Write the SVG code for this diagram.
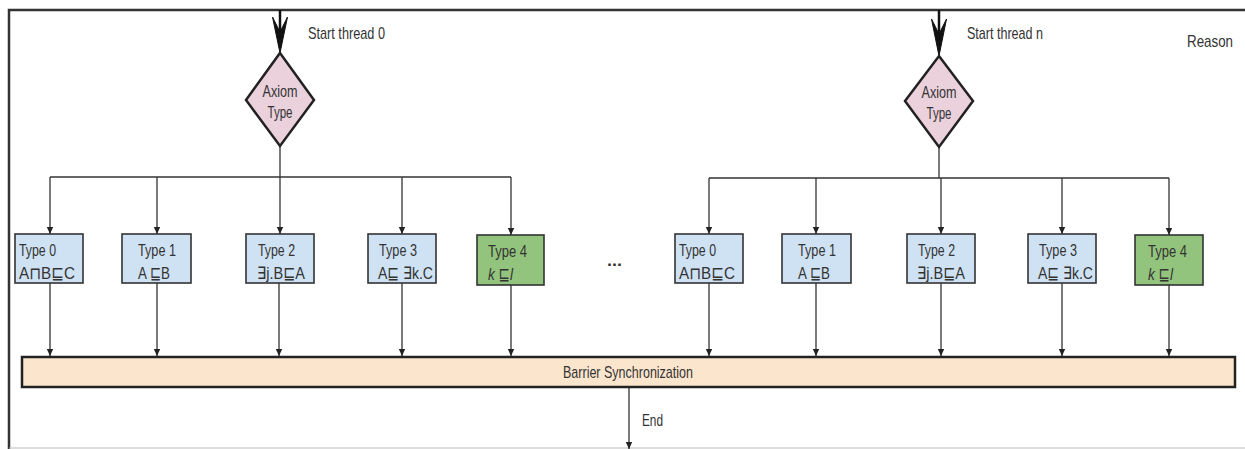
<svg xmlns="http://www.w3.org/2000/svg" width="1245" height="449" viewBox="0 0 1245 449">
  <style>
    text { font-family: "Liberation Sans", Arial, "DejaVu Sans", sans-serif; font-size: 17px; fill: #333; }
    .mid { text-anchor: middle; }
    .it { font-style: italic; }
    .frame { fill: none; stroke: #333; stroke-width: 2.5; }
    .edge { fill: none; stroke: #333; stroke-width: 1.3; }
    .start { fill: none; stroke: #111; stroke-width: 2.5; }
    .head { fill: #111; stroke: #111; stroke-width: 1; }
    .decision { fill: #ead1dc; stroke: #222; stroke-width: 2.5; }
    .rule { fill: #cfe2f3; stroke: #333; stroke-width: 1.6; }
    .rule4 { fill: #93c47d; stroke: #333; stroke-width: 1.6; }
    .barrier { fill: #fce5cd; stroke: #222; stroke-width: 2.5; }
  </style>
  <defs>
    <marker id="tip" markerWidth="8" markerHeight="10" refX="7" refY="4" orient="auto" markerUnits="userSpaceOnUse">
      <path d="M0,0.8 L7,4 L0,7.2 Z" fill="#222"/>
    </marker>
  </defs>

  <!-- outer frame of the reasoning stage -->
  <g id="frame">
    <path class="frame" d="M1245,10 H9 V449"/>
    <line x1="9" y1="448" x2="1245" y2="448" stroke="#bbb" stroke-width="1.2"/>
    <text x="1187" y="47" textLength="46" lengthAdjust="spacingAndGlyphs">Reason</text>
  </g>

  <!-- connectors -->
  <g id="connectors">
    <!-- thread entry arrows -->
    <line class="start" x1="280" y1="10" x2="280" y2="40"/>
    <path class="head" d="M272.5,17 L280,53 L287.5,17 L280,32 Z"/>
    <line class="start" x1="939" y1="10" x2="939" y2="42"/>
    <path class="head" d="M931.5,19 L939,56 L946.5,19 L939,34 Z"/>

    <!-- thread 0 dispatch -->
    <line class="edge" x1="280" y1="146" x2="280" y2="177"/>
    <line class="edge" x1="50" y1="177" x2="511" y2="177"/>
    <line class="edge" x1="50" y1="177" x2="50" y2="234" marker-end="url(#tip)"/>
    <line class="edge" x1="157" y1="177" x2="157" y2="234" marker-end="url(#tip)"/>
    <line class="edge" x1="280" y1="177" x2="280" y2="234" marker-end="url(#tip)"/>
    <line class="edge" x1="402" y1="177" x2="402" y2="234" marker-end="url(#tip)"/>
    <line class="edge" x1="511" y1="177" x2="511" y2="235" marker-end="url(#tip)"/>

    <!-- thread n dispatch -->
    <line class="edge" x1="939" y1="147" x2="939" y2="178"/>
    <line class="edge" x1="709" y1="178" x2="1169" y2="178"/>
    <line class="edge" x1="709" y1="178" x2="709" y2="234" marker-end="url(#tip)"/>
    <line class="edge" x1="816" y1="178" x2="816" y2="234" marker-end="url(#tip)"/>
    <line class="edge" x1="941" y1="178" x2="941" y2="234" marker-end="url(#tip)"/>
    <line class="edge" x1="1062" y1="178" x2="1062" y2="234" marker-end="url(#tip)"/>
    <line class="edge" x1="1169" y1="178" x2="1169" y2="235" marker-end="url(#tip)"/>

    <!-- rule results into the barrier -->
    <line class="edge" x1="50" y1="283" x2="50" y2="356" marker-end="url(#tip)"/>
    <line class="edge" x1="157" y1="283" x2="157" y2="356" marker-end="url(#tip)"/>
    <line class="edge" x1="279" y1="283" x2="279" y2="356" marker-end="url(#tip)"/>
    <line class="edge" x1="402" y1="283" x2="402" y2="356" marker-end="url(#tip)"/>
    <line class="edge" x1="511" y1="285" x2="511" y2="356" marker-end="url(#tip)"/>
    <line class="edge" x1="709" y1="283" x2="709" y2="356" marker-end="url(#tip)"/>
    <line class="edge" x1="816" y1="283" x2="816" y2="356" marker-end="url(#tip)"/>
    <line class="edge" x1="941" y1="283" x2="941" y2="356" marker-end="url(#tip)"/>
    <line class="edge" x1="1062" y1="283" x2="1062" y2="356" marker-end="url(#tip)"/>
    <line class="edge" x1="1169" y1="285" x2="1169" y2="356" marker-end="url(#tip)"/>

    <!-- exit -->
    <line class="edge" x1="629" y1="388" x2="629" y2="449" marker-end="url(#tip)"/>
  </g>

  <!-- labels on the connectors -->
  <text x="308" y="39" textLength="77" lengthAdjust="spacingAndGlyphs">Start thread 0</text>
  <text x="967" y="39" textLength="76" lengthAdjust="spacingAndGlyphs">Start thread n</text>
  <text x="642" y="426" textLength="21" lengthAdjust="spacingAndGlyphs">End</text>
  <text x="607" y="266" textLength="15" lengthAdjust="spacingAndGlyphs" font-weight="bold">...</text>

  <!-- thread 0 -->
  <g id="axiom-type-0">
    <polygon class="decision" points="280,53 314,100 280,146 246,100"/>
    <text class="mid" x="280" y="97" textLength="35" lengthAdjust="spacingAndGlyphs">Axiom</text>
    <text class="mid" x="280" y="118" textLength="25" lengthAdjust="spacingAndGlyphs">Type</text>
  </g>
  <g id="t0-type0">
    <rect class="rule" x="15" y="234" width="68" height="49"/>
    <text x="19" y="256" textLength="37" lengthAdjust="spacingAndGlyphs">Type 0</text>
    <text x="19" y="279" textLength="56" lengthAdjust="spacingAndGlyphs">A⊓B⊑C</text>
  </g>
  <g id="t0-type1">
    <rect class="rule" x="122" y="234" width="69" height="49"/>
    <text x="138" y="256" textLength="38" lengthAdjust="spacingAndGlyphs">Type 1</text>
    <text x="138" y="279" textLength="32" lengthAdjust="spacingAndGlyphs">A ⊑B</text>
  </g>
  <g id="t0-type2">
    <rect class="rule" x="246" y="234" width="68" height="49"/>
    <text x="258" y="256" textLength="37" lengthAdjust="spacingAndGlyphs">Type 2</text>
    <text x="257" y="279" textLength="48" lengthAdjust="spacingAndGlyphs">∃j.B⊑A</text>
  </g>
  <g id="t0-type3">
    <rect class="rule" x="368" y="234" width="68" height="49"/>
    <text x="379" y="256" textLength="38" lengthAdjust="spacingAndGlyphs">Type 3</text>
    <text x="378" y="279" textLength="55" lengthAdjust="spacingAndGlyphs">A⊑ ∃k.C</text>
  </g>
  <g id="t0-type4">
    <rect class="rule4" x="477" y="235" width="67" height="50"/>
    <text x="488" y="257" textLength="39" lengthAdjust="spacingAndGlyphs">Type 4</text>
    <text class="it" x="488" y="280" textLength="25" lengthAdjust="spacingAndGlyphs">k ⊑l</text>
  </g>

  <!-- thread n -->
  <g id="axiom-type-n">
    <polygon class="decision" points="939,56 973,101 939,147 905,101"/>
    <text class="mid" x="939" y="98" textLength="35" lengthAdjust="spacingAndGlyphs">Axiom</text>
    <text class="mid" x="939" y="119" textLength="25" lengthAdjust="spacingAndGlyphs">Type</text>
  </g>
  <g id="tn-type0">
    <rect class="rule" x="675" y="234" width="68" height="49"/>
    <text x="679" y="256" textLength="37" lengthAdjust="spacingAndGlyphs">Type 0</text>
    <text x="679" y="279" textLength="56" lengthAdjust="spacingAndGlyphs">A⊓B⊑C</text>
  </g>
  <g id="tn-type1">
    <rect class="rule" x="782" y="234" width="69" height="49"/>
    <text x="798" y="256" textLength="38" lengthAdjust="spacingAndGlyphs">Type 1</text>
    <text x="798" y="279" textLength="32" lengthAdjust="spacingAndGlyphs">A ⊑B</text>
  </g>
  <g id="tn-type2">
    <rect class="rule" x="907" y="234" width="68" height="49"/>
    <text x="918" y="256" textLength="37" lengthAdjust="spacingAndGlyphs">Type 2</text>
    <text x="917" y="279" textLength="48" lengthAdjust="spacingAndGlyphs">∃j.B⊑A</text>
  </g>
  <g id="tn-type3">
    <rect class="rule" x="1028" y="234" width="68" height="49"/>
    <text x="1039" y="256" textLength="38" lengthAdjust="spacingAndGlyphs">Type 3</text>
    <text x="1038" y="279" textLength="55" lengthAdjust="spacingAndGlyphs">A⊑ ∃k.C</text>
  </g>
  <g id="tn-type4">
    <rect class="rule4" x="1135" y="235" width="68" height="50"/>
    <text x="1148" y="257" textLength="39" lengthAdjust="spacingAndGlyphs">Type 4</text>
    <text class="it" x="1148" y="280" textLength="25" lengthAdjust="spacingAndGlyphs">k ⊑l</text>
  </g>

  <!-- join point for all threads -->
  <g id="barrier">
    <rect class="barrier" x="22" y="357" width="1213" height="30"/>
    <text class="mid" x="628" y="378" textLength="130" lengthAdjust="spacingAndGlyphs">Barrier Synchronization</text>
  </g>
</svg>
